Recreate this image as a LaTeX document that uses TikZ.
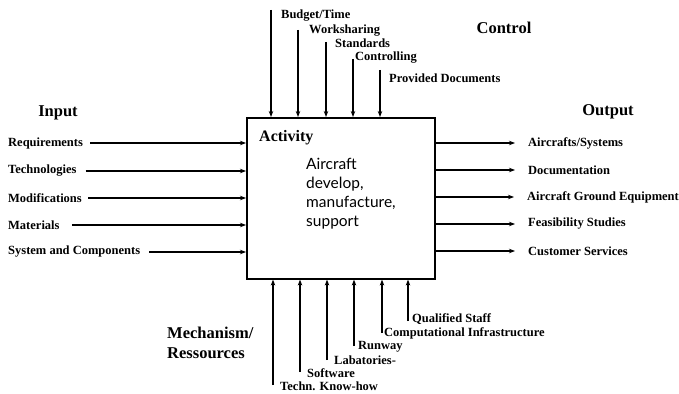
\documentclass[tikz,border=0pt]{standalone}
\usepackage{fontspec}
\setmainfont{Liberation Serif}
\newfontfamily\actfont{Lato}
\usetikzlibrary{arrows.meta}
\tikzset{
 lab/.style={font=\bfseries\fontsize{12.5}{14}\selectfont, inner sep=0pt, anchor=west},
 head/.style={font=\bfseries\fontsize{16.5}{20}\selectfont, inner sep=0pt},
 arr/.style={line width=1.1pt, -{Stealth[length=6pt,width=4.5pt]}},
 box/.style={draw, line width=1.6pt}
}
\begin{document}
\begin{tikzpicture}[x=1pt,y=-1pt]
\useasboundingbox (0,0) rectangle (679,393);
\node[box, minimum width=188pt, minimum height=161pt, inner sep=0pt, anchor=north west] (act) at (246,117) {};
\node[font=\bfseries\fontsize{16}{18}\selectfont, inner sep=0pt, anchor=west] (actlab) at (259,138) {Activity};
\node[font=\actfont\fontsize{15.5}{19}\selectfont, inner sep=0pt, align=left, anchor=north west] (acttxt) at (306,158) {Aircraft\\develop,\\manufacture,\\support};

% headings
\node[head] (hin) at (58,113) {Input};
\node[head] (hout) at (608,112) {Output};
\node[head] (hctl) at (504,28) {Control};
\node[head, align=left, anchor=west] (hmech) at (167,343) {Mechanism/\\Ressources};

% inputs
\node[lab] (i1) at (8,143) {Requirements};
\node[lab] (i2) at (8,171) {Technologies};
\node[lab] (i3) at (8,198) {Modifications};
\node[lab] (i4) at (8,225) {Materials};
\node[lab] (i5) at (8,252) {System and Components};
\draw[arr] ([xshift=7pt]i1.east) -- (i1 -| act.west);
\draw[arr] ([xshift=9pt]i2.east) -- (i2 -| act.west);
\draw[arr] ([xshift=6pt]i3.east) -- (i3 -| act.west);
\draw[arr] ([xshift=12pt]i4.east) -- (i4 -| act.west);
\draw[arr] ([xshift=9pt]i5.east) -- (i5 -| act.west);

% outputs
\node[lab] (o1) at (528,143) {Aircrafts/Systems};
\node[lab] (o2) at (528,170) {Documentation};
\node[lab] (o3) at (527,197) {Aircraft Ground Equipment};
\node[lab] (o4) at (528,224) {Feasibility Studies};
\node[lab] (o5) at (528,251) {Customer Services};
\foreach \o in {o1,o2,o3,o4,o5}
  \draw[arr] (act.east |- \o) -- ([xshift=-13pt]\o.west);

% controls
\coordinate (t1) at (271,10);
\coordinate (t2) at (298,30);
\coordinate (t3) at (326,42);
\coordinate (t4) at (353,59);
\coordinate (t5) at (380,70);
\foreach \t in {t1,t2,t3,t4,t5}
  \draw[arr] (\t) -- (\t |- act.north);
\node[lab] (c1) at (281,16) {Budget/Time};
\node[lab] (c2) at (309,31) {Worksharing};
\node[lab] (c3) at (335,43) {Standards};
\node[lab] (c4) at (355,58) {Controlling};
\node[lab] (c5) at (389,78) {Provided Documents};

% mechanisms
\coordinate (b1) at (273,385);
\coordinate (b2) at (300,372);
\coordinate (b3) at (327,360);
\coordinate (b4) at (354,346);
\coordinate (b5) at (382,333);
\coordinate (b6) at (408,321);
\foreach \b in {b1,b2,b3,b4,b5,b6}
  \draw[arr] (\b) -- (\b |- act.south);
\node[lab] (m1) at (280,386) {Techn. Know-how};
\node[lab] (m2) at (307,373) {Software};
\node[lab] (m3) at (334,360) {Labatories-};
\node[lab] (m4) at (358,347) {Runway};
\node[lab] (m5) at (384,333) {Computational Infrastructure};
\node[lab] (m6) at (412,319) {Qualified Staff};
\end{tikzpicture}
\end{document}
